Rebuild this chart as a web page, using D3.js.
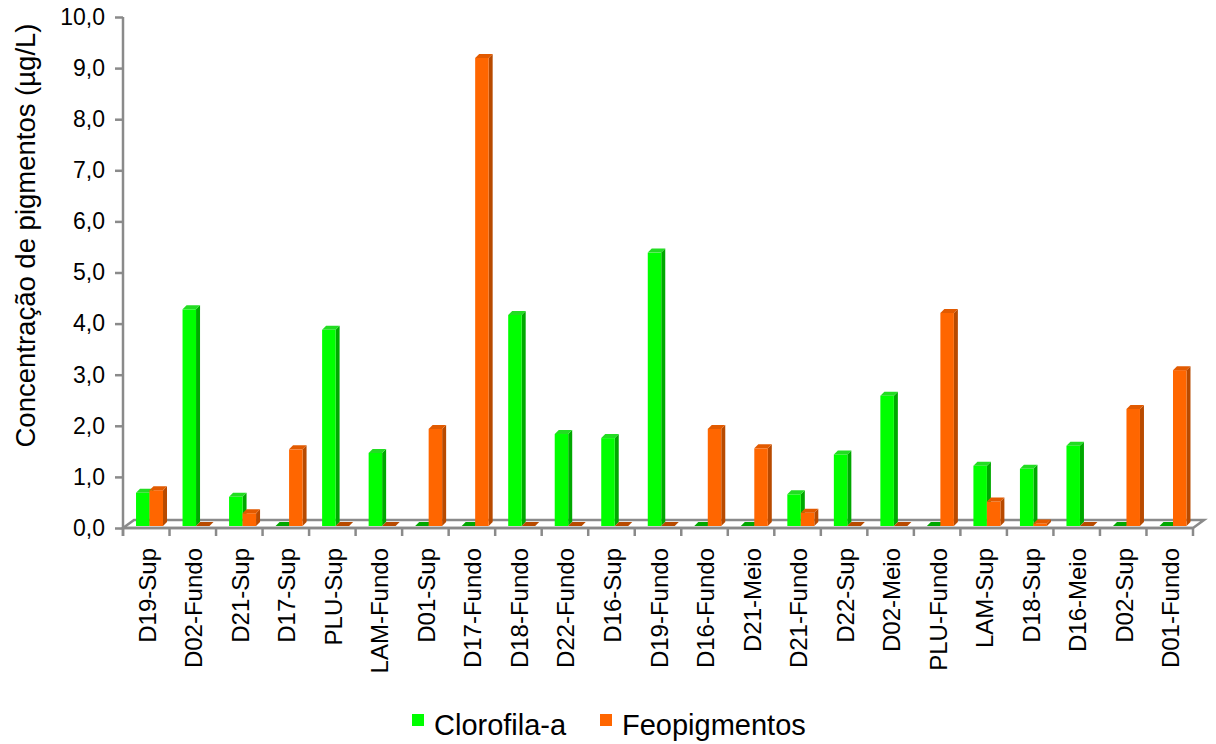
<!DOCTYPE html>
<html><head><meta charset="utf-8">
<script src="https://cdn.jsdelivr.net/npm/d3@7"></script>
<style>
html,body{margin:0;padding:0;background:#fff;}
text{font-family:"Liberation Sans",Arial,sans-serif;fill:#000;}
</style></head>
<body>
<svg id="chart" width="1216" height="744"></svg>
<script>
const categories = ["D19-Sup","D02-Fundo","D21-Sup","D17-Sup","PLU-Sup","LAM-Fundo","D01-Sup","D17-Fundo","D18-Fundo","D22-Fundo","D16-Sup","D19-Fundo","D16-Fundo","D21-Meio","D21-Fundo","D22-Sup","D02-Meio","PLU-Fundo","LAM-Sup","D18-Sup","D16-Meio","D02-Sup","D01-Fundo"];
const seriesNames = ["Clorofila-a","Feopigmentos"];
const clorofila = [0.65,4.24,0.57,0,3.84,1.43,0,0,4.13,1.80,1.72,5.35,0,0,0.62,1.40,2.55,0,1.18,1.12,1.57,0,0];
const feopigmentos = [0.70,0,0.25,1.50,0,0,1.90,9.16,0,0,0,0,1.90,1.52,0.26,0,0,4.17,0.48,0.05,0,2.29,3.05];
const yTicks = [0,1,2,3,4,5,6,7,8,9,10];
const yTitle = "Concentração de pigmentos (µg/L)";

const colors = {
  "Clorofila-a": {front:"#00ff00", side:"#00a800", top:"#22dd22"},
  "Feopigmentos": {front:"#ff6600", side:"#b84a00", top:"#e25a00"}
};

const svg = d3.select("#chart");
const pL = 123, pR = 1193, pT = 17, pB = 528;
const y = d3.scaleLinear().domain([0,10]).range([pB, pT]);
const yBar = d3.scaleLinear().domain([0,10]).range([pB-2, pT-2]);
const x = d3.scaleBand().domain(categories).range([pL, pR]).paddingInner(0).paddingOuter(0);
const bw = x.bandwidth();
const xs = d3.scaleBand().domain(seriesNames).range([bw*0.28, bw*0.86]).padding(0);
const axisColor = "#8a8a8a";
const fdx = 11, fdy = -8; // floor depth
const dx = 4, dy = -4;    // bar depth

// floor
svg.append("path")
  .attr("d", `M${pL},${pB} L${pR},${pB} L${pR+fdx},${pB+fdy} L${pL+fdx},${pB+fdy} Z`)
  .attr("fill","#fff").attr("stroke",axisColor).attr("stroke-width",2.5);

// bars
const rows = categories.map((c,i)=>({cat:c, vals:[{s:seriesNames[0], v:clorofila[i]},{s:seriesNames[1], v:feopigmentos[i]}]}));
const g = svg.append("g");
rows.forEach(r=>{
  r.vals.forEach(d=>{
    const x0 = x(r.cat) + xs(d.s), w = xs.bandwidth();
    const yt = yBar(d.v), yb = yBar(0);
    const c = colors[d.s];
    if (d.v > 0) {
      g.append("path").attr("d",`M${x0+w},${yt} L${x0+w+dx},${yt+dy} L${x0+w+dx},${yb+dy} L${x0+w},${yb} Z`).attr("fill",c.side);
      g.append("rect").attr("x",x0).attr("y",yt).attr("width",w).attr("height",yb-yt).attr("fill",c.front);
    }
    g.append("path").attr("d",`M${x0},${yt} L${x0+dx},${yt+dy} L${x0+w+dx},${yt+dy} L${x0+w},${yt} Z`).attr("fill",d.v>0?c.top:c.side);
  });
});

// y axis
const yAxis = d3.axisLeft(y).tickValues(yTicks).tickSize(8).tickPadding(10)
  .tickFormat(d=>d.toFixed(1).replace(".",","));
const ya = svg.append("g").attr("transform",`translate(${pL},0)`).call(yAxis);
ya.select(".domain").attr("stroke",axisColor).attr("stroke-width",2.5).attr("d",`M0,${pT}V${pB+8}`);
ya.selectAll(".tick line").attr("stroke",axisColor).attr("stroke-width",2.5);
ya.selectAll(".tick text").attr("font-size",23).attr("fill","#000").style("font-family","Liberation Sans, Arial, sans-serif");

// x axis ticks at band edges
const edges = categories.map(c=>x(c)).concat([x(categories[categories.length-1])+bw]);
svg.append("g").selectAll("line").data(edges).join("line")
  .attr("x1",d=>d).attr("x2",d=>d).attr("y1",pB).attr("y2",pB+8)
  .attr("stroke",axisColor).attr("stroke-width",2.5);
svg.append("line").attr("x1",pL).attr("x2",pR).attr("y1",pB).attr("y2",pB).attr("stroke",axisColor).attr("stroke-width",2.5);

// x labels
svg.append("g").selectAll("text").data(categories).join("text")
  .attr("transform",d=>`translate(${x(d)+bw/2+1},${pB+20}) rotate(-90)`)
  .attr("text-anchor","end").attr("dominant-baseline","central")
  .attr("font-size",24).text(d=>d);

// y title
svg.append("text").attr("transform",`translate(25,${(pT+pB)/2-37}) rotate(-90)`)
  .attr("text-anchor","middle").attr("dominant-baseline","central")
  .attr("font-size",27.5).text(yTitle);

// legend
const lg = svg.append("g");
const legendX = [412, 600];
seriesNames.forEach((s,i)=>{
  lg.append("rect").attr("x",legendX[i]).attr("y",714).attr("width",12).attr("height",12).attr("fill",colors[s].front);
  lg.append("text").attr("x",legendX[i]+22).attr("y",735).attr("font-size",29).text(s);
});
</script>
</body></html>
